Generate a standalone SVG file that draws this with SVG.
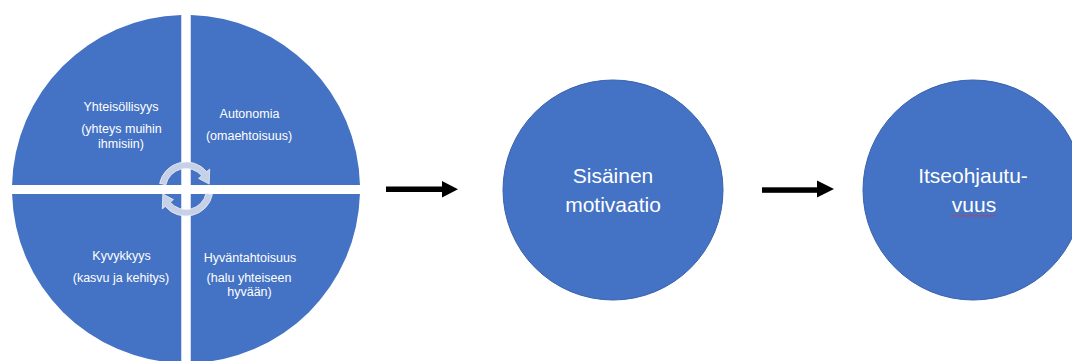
<svg xmlns="http://www.w3.org/2000/svg" width="1072" height="361" viewBox="0 0 1072 361">
  <style>
    .q { fill: #4472c4; }
    .circ { fill: #4472c4; stroke: #3a63ad; stroke-width: 1; }
    .t { font-family: "Liberation Sans", Arial, sans-serif; font-size: 12.5px; fill: #ffffff; text-anchor: middle; }
    .tl { font-family: "Liberation Sans", Arial, sans-serif; font-size: 21px; fill: #ffffff; text-anchor: middle; }
    .cyc { fill: #c6d0e6; stroke: #eef1f8; stroke-width: 0.8; }
    .shaft { fill: #000000; }
  </style>
  <defs>
    <path id="cycArrow" class="cyc" d="M159.6,183.4 A27,27 0 0 1 206.7,171.6 L209.7,169.1 L209.2,184.1 L198.6,178.4 L201.7,175.8 A20.5,20.5 0 0 0 165.95,184.7 Z"/>
  </defs>
  <rect width="1072" height="361" fill="#ffffff"/>

  <g id="node-yhteisollisyys">
    <path class="q" d="M181.25,185 L181.25,15.06 A174,174 0 0 0 12.05,185 Z"/>
    <text class="t" x="121" y="111">Yhteisöllisyys</text>
    <text class="t" x="121.5" y="133">(yhteys muihin</text>
    <text class="t" x="121" y="148">ihmisiin)</text>
  </g>
  <g id="node-autonomia">
    <path class="q" d="M190.75,185 L190.75,15.06 A174,174 0 0 1 359.95,185 Z"/>
    <text class="t" x="249.5" y="118">Autonomia</text>
    <text class="t" x="249" y="140">(omaehtoisuus)</text>
  </g>
  <g id="node-kyvykkyys">
    <path class="q" d="M181.25,194 L12.07,194 A174,174 0 0 0 181.25,362.94 Z"/>
    <text class="t" x="121.5" y="260">Kyvykkyys</text>
    <text class="t" x="121" y="282">(kasvu ja kehitys)</text>
  </g>
  <g id="node-hyvantahtoisuus">
    <path class="q" d="M190.75,194 L190.75,362.94 A174,174 0 0 0 359.93,194 Z"/>
    <text class="t" x="250" y="262">Hyväntahtoisuus</text>
    <text class="t" x="249" y="282">(halu yhteiseen</text>
    <text class="t" x="249.5" y="296">hyvään)</text>
  </g>
  <g id="node-cycle">
    <use href="#cycArrow"/>
    <use href="#cycArrow" transform="rotate(180 186 189)"/>
  </g>

  <g id="node-sisainen-motivaatio">
    <circle class="circ" cx="613" cy="190" r="110"/>
    <text class="tl" x="613" y="183">Sisäinen</text>
    <text class="tl" x="613" y="212">motivaatio</text>
  </g>

  <g id="node-itseohjautuvuus">
    <circle class="circ" cx="973" cy="190" r="110"/>
    <text class="tl" x="973" y="183">Itseohjautu-</text>
    <text class="tl" x="974" y="212">vuus</text>
    <path d="M952,216.5 l1.5,-1.5 l1.5,1.5 l1.5,-1.5 l1.5,1.5 l1.5,-1.5 l1.5,1.5 l1.5,-1.5 l1.5,1.5 l1.5,-1.5 l1.5,1.5 l1.5,-1.5 l1.5,1.5 l1.5,-1.5 l1.5,1.5 l1.5,-1.5 l1.5,1.5 l1.5,-1.5 l1.5,1.5 l1.5,-1.5 l1.5,1.5 l1.5,-1.5 l1.5,1.5 l1.5,-1.5 l1.5,1.5 l1.5,-1.5 l1.5,1.5 l1.5,-1.5 l1.5,1.5 l1.5,-1.5" fill="none" stroke="#d9363e" stroke-width="0.9"/>
  </g>

  <g id="connectors">
    <rect class="shaft" x="386" y="186.5" width="57" height="5.5"/>
    <polygon class="shaft" points="442,181 458,189.3 442,197.5"/>
    <rect class="shaft" x="762" y="187.3" width="56" height="5.5"/>
    <polygon class="shaft" points="817,180.5 834,189 817,197.5"/>
  </g>
</svg>
